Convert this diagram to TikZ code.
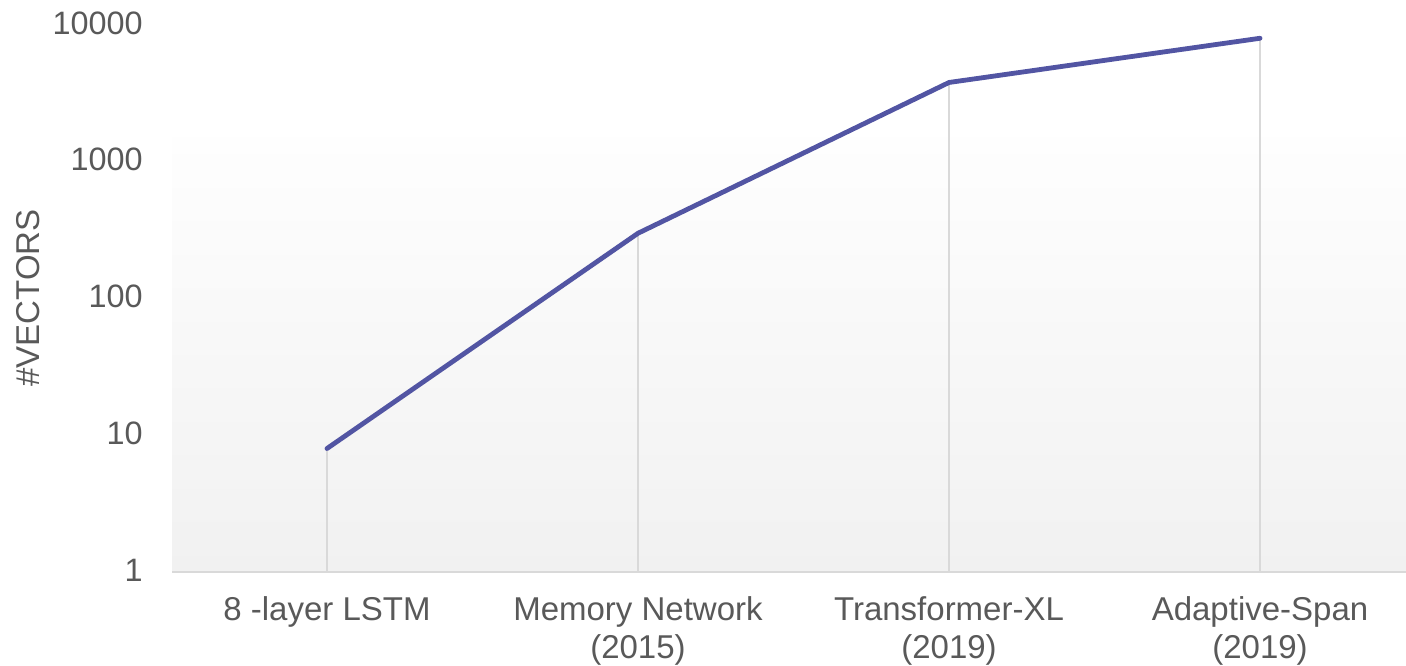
\documentclass[tikz,border=0pt]{standalone}
\usepackage{fontspec}
\setmainfont{Liberation Sans}
\usepackage{tikz}
\usetikzlibrary{positioning}
\definecolor{mytext}{RGB}{89,89,89}
\definecolor{myline}{RGB}{82,85,163}
\definecolor{mygrid}{RGB}{217,217,217}
\definecolor{myback}{RGB}{241,241,241}
\definecolor{mytop}{RGB}{254,254,254}
\tikzset{
  ticklabel/.style={anchor=east, inner sep=0pt, text=mytext,
    font=\fontsize{16.2}{19}\selectfont},
  catlabel/.style={anchor=base, align=center, inner sep=0pt, text=mytext,
    font=\fontsize{16.5}{19}\selectfont},
  axislabel/.style={rotate=90, inner sep=0pt, text=mytext,
    font=\fontsize{16.5}{19}\selectfont},
  dropline/.style={mygrid, line width=0.8pt},
  baseline/.style={mygrid, line width=1pt},
  dataline/.style={myline, line width=2.4pt, line join=round, line cap=round}
}

\begin{document}
\begin{tikzpicture}[x=0.5pt, y=-0.5pt]
  \useasboundingbox (0,0) rectangle (1406,665);

  % Plot area background
  \shade[top color=mytop, bottom color=myback] (172,137) rectangle (1406,572);

  % Axis line
  \coordinate (axl) at (172,572);
  \coordinate (axr) at (1406,572);
  \draw[baseline] (axl) -- (axr);

  % Tick labels (log scale)
  \foreach \v/\k in {1/0, 10/1, 100/2, 1000/3, 10000/4}{
    \node[ticklabel] (tick\k) at (143, 570-136.75*\k) {\v};
  }
  \node[axislabel] (ylab) at (28,298) {\#VECTORS};

  % Data points and drop lines
  \foreach \i/\xx/\v in {1/327/8, 2/638/300, 3/949/3800, 4/1260/8000}{
    \pgfmathsetmacro{\yy}{572-136.75*log10(\v)}
    \coordinate (p\i) at (\xx,\yy);
    \coordinate (b\i) at (\xx,572);
    \draw[dropline] (b\i) -- (p\i);
  }
  \draw[dataline] (p1) -- (p2) -- (p3) -- (p4);

  % Category labels (base = last line)
  \node[catlabel] (c1) at (327,620) {8 -layer LSTM};
  \node[catlabel] (c2) at (638,658) {Memory Network\\(2015)};
  \node[catlabel] (c3) at (949,658) {Transformer-XL\\(2019)};
  \node[catlabel] (c4) at (1260,658) {Adaptive-Span\\(2019)};
\end{tikzpicture}
\end{document}
